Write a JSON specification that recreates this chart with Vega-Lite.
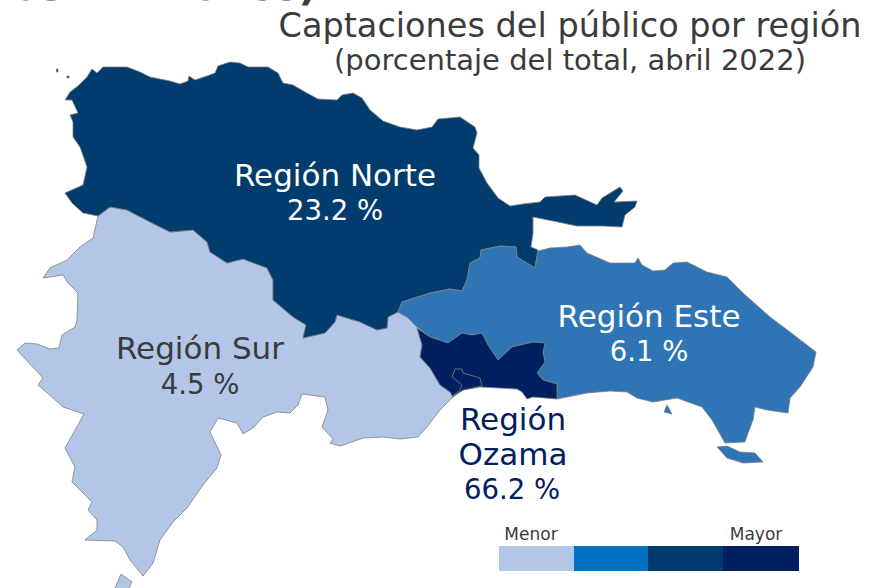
{"$schema":"https://vega.github.io/schema/vega-lite/v6.json","width":869,"height":588,"padding":0,"autosize":"none","view":{"stroke":null},"background":"white","projection":{"type":"identity","scale":1,"translate":[0,0]},"datasets":{"regions":[
{"type":"Feature","region":"Sur","geometry":{"type":"MultiPolygon","coordinates":[[[[98,216],[110,207],[127,210],[150,222],[170,232],[193,230],[207,242],[210,252],[227,263],[243,259],[267,268],[273,280],[273,300],[293,317],[306,325],[303,338],[325,333],[335,322],[337,315],[360,322],[377,330],[387,328],[388,317],[398,312],[407,317],[417,327],[422,345],[420,357],[430,368],[440,385],[450,392],[453,397],[440,410],[427,427],[418,437],[400,439],[383,437],[363,438],[340,446],[330,443],[333,439],[322,427],[328,410],[325,397],[302,394],[298,405],[290,413],[277,412],[263,417],[253,428],[243,434],[237,423],[218,418],[210,432],[221,455],[217,468],[203,485],[187,508],[173,522],[160,540],[153,563],[143,576],[130,560],[123,547],[115,541],[85,540],[97,530],[97,520],[88,510],[92,502],[72,482],[75,467],[65,448],[84,414],[63,407],[53,398],[38,385],[43,378],[17,350],[25,343],[37,344],[50,349],[59,348],[62,335],[75,327],[77,320],[78,293],[68,283],[63,275],[43,278],[50,268],[67,260],[80,247],[93,238],[98,216]]],[[[115,588],[121,574],[132,582],[128,590],[115,590],[115,588]]]]}},
{"type":"Feature","region":"Norte","geometry":{"type":"MultiPolygon","coordinates":[[[[65,100],[70,92],[78,86],[87,77],[92,69],[97,73],[103,67],[127,67],[140,72],[150,77],[170,81],[180,84],[188,81],[189,76],[195,80],[207,76],[215,73],[218,66],[230,62],[240,63],[248,67],[268,67],[278,73],[283,83],[293,85],[305,92],[318,99],[337,100],[342,95],[353,93],[362,98],[370,110],[383,121],[400,127],[417,130],[432,127],[438,119],[460,117],[475,127],[477,133],[473,148],[479,155],[479,168],[487,183],[498,198],[510,206],[523,204],[540,202],[545,197],[575,195],[597,205],[602,198],[620,187],[623,191],[614,202],[637,201],[635,207],[625,215],[622,227],[603,226],[577,226],[553,221],[533,217],[533,233],[531,247],[538,250],[535,268],[517,257],[516,247],[500,246],[481,250],[480,258],[470,263],[467,280],[462,291],[450,289],[430,293],[402,302],[398,312],[388,317],[387,328],[377,330],[360,322],[337,315],[335,322],[325,333],[303,338],[306,325],[293,317],[273,300],[273,280],[267,268],[243,259],[227,263],[210,252],[207,242],[193,230],[170,232],[150,222],[127,210],[110,207],[98,216],[83,213],[72,203],[65,193],[83,185],[87,167],[80,147],[73,137],[73,122],[70,115],[78,113],[72,100],[65,100]]],[[[56.5,69],[58,69],[58,72],[56.5,72],[56.5,69]]],[[[67,76],[69,76],[69,78],[67,78],[67,76]]]]}},
{"type":"Feature","region":"Este","geometry":{"type":"MultiPolygon","coordinates":[[[[398,312],[402,302],[430,293],[450,289],[462,291],[467,280],[470,263],[480,258],[481,250],[500,246],[516,247],[517,257],[535,268],[538,251],[550,248],[567,247],[580,245],[587,253],[610,263],[635,263],[638,258],[642,265],[653,271],[665,270],[673,263],[687,262],[707,272],[727,277],[743,293],[770,317],[790,332],[803,342],[816,352],[813,367],[800,387],[790,398],[788,413],[767,410],[755,407],[753,420],[748,433],[745,442],[725,443],[712,420],[702,407],[677,398],[653,402],[637,398],[627,392],[610,391],[587,393],[557,399],[557,384],[543,380],[537,373],[545,362],[543,352],[545,343],[533,342],[512,347],[498,360],[488,345],[482,333],[472,335],[462,333],[448,343],[430,337],[417,327],[407,317],[398,312]]],[[[717,447],[727,446],[740,452],[755,453],[763,462],[743,463],[727,458],[717,447]]],[[[664,412],[667,405],[672,414],[664,412]]]]}},
{"type":"Feature","region":"Ozama","geometry":{"type":"Polygon","coordinates":[[[417,328],[430,337],[448,343],[462,333],[472,335],[482,333],[488,345],[498,360],[512,347],[533,342],[545,343],[543,352],[545,362],[537,373],[543,380],[557,384],[557,399],[533,397],[527,399],[522,392],[517,389],[480,387],[463,390],[453,397],[450,392],[440,385],[430,368],[420,357],[422,345],[417,328]]]}},
{"type":"Feature","region":"Ozama","geometry":{"type":"Polygon","coordinates":[[[452,377],[455,369],[462,369],[463,373],[480,378],[482,386],[463,390],[453,396],[460,390],[462,385],[452,377]]]}}
],"scale":[
{"type":"Feature","region":"Sur","geometry":{"type":"Polygon","coordinates":[[[499,546],[574,546],[574,571],[499,571],[499,546]]]}},
{"type":"Feature","region":"Medio","geometry":{"type":"Polygon","coordinates":[[[574,546],[648,546],[648,571],[574,571],[574,546]]]}},
{"type":"Feature","region":"Norte","geometry":{"type":"Polygon","coordinates":[[[648,546],[723,546],[723,571],[648,571],[648,546]]]}},
{"type":"Feature","region":"Ozama","geometry":{"type":"Polygon","coordinates":[[[723,546],[799,546],[799,571],[723,571],[723,546]]]}}
],"labels":[
{"t":"Región Norte","lon":335,"lat":177,"tone":"w","k":"big"},
{"t":"23.2 %","lon":335,"lat":212,"tone":"w","k":"num"},
{"t":"Región Este","lon":649,"lat":318,"tone":"w","k":"big"},
{"t":"6.1 %","lon":649,"lat":353,"tone":"w","k":"num"},
{"t":"Región Sur","lon":200,"lat":350,"tone":"d","k":"big"},
{"t":"4.5 %","lon":200,"lat":386,"tone":"d","k":"num"},
{"t":"Región","lon":513,"lat":421,"tone":"n","k":"big"},
{"t":"Ozama","lon":513,"lat":456,"tone":"n","k":"big"},
{"t":"66.2 %","lon":512,"lat":491,"tone":"n","k":"num"},
{"t":"Captaciones del público por región","lon":570,"lat":27,"tone":"d","k":"title"},
{"t":"(porcentaje del total, abril 2022)","lon":570,"lat":61,"tone":"d","k":"sub"},
{"t":"Menor","lon":531,"lat":535,"tone":"d","k":"small"},
{"t":"Mayor","lon":756,"lat":535,"tone":"d","k":"small"},
{"t":"632 millones).","lon":332,"lat":0,"tone":"d","k":"top"}
]},
"layer":[
{"data":{"name":"regions"},"mark":{"type":"geoshape","stroke":"#7f7f7f","strokeWidth":0.8},"encoding":{"color":{"field":"region","type":"nominal","legend":null,"scale":{"domain":["Sur","Medio","Norte","Este","Ozama"],"range":["#b3c6e7","#0070c0","#003c6e","#2f75b5","#00205f"]}}}},
{"data":{"name":"scale"},"mark":{"type":"geoshape","strokeWidth":0},"encoding":{"color":{"field":"region","type":"nominal","legend":null,"scale":{"domain":["Sur","Medio","Norte","Este","Ozama"],"range":["#b3c6e7","#0070c0","#003c6e","#2f75b5","#00205f"]}}}},
{"data":{"name":"labels"},"transform":[{"filter":"datum.k==='big'"}],"mark":{"type":"text","font":"DejaVu Sans","fontSize":31,"align":"center","baseline":"middle"},"encoding":{"longitude":{"field":"lon","type":"quantitative"},"latitude":{"field":"lat","type":"quantitative"},"text":{"field":"t"},"color":{"field":"tone","type":"nominal","legend":null,"scale":{"domain":["w","d","n"],"range":["#ffffff","#3b3b3b","#00205f"]}}}},
{"data":{"name":"labels"},"transform":[{"filter":"datum.k==='num'"}],"mark":{"type":"text","font":"DejaVu Sans","fontSize":27.5,"align":"center","baseline":"middle"},"encoding":{"longitude":{"field":"lon","type":"quantitative"},"latitude":{"field":"lat","type":"quantitative"},"text":{"field":"t"},"color":{"field":"tone","type":"nominal","legend":null,"scale":{"domain":["w","d","n"],"range":["#ffffff","#3b3b3b","#00205f"]}}}},
{"data":{"name":"labels"},"transform":[{"filter":"datum.k==='title'"}],"mark":{"type":"text","font":"DejaVu Sans","fontSize":33.5,"align":"center","baseline":"middle","color":"#3b3b3b"},"encoding":{"longitude":{"field":"lon","type":"quantitative"},"latitude":{"field":"lat","type":"quantitative"},"text":{"field":"t"}}},
{"data":{"name":"labels"},"transform":[{"filter":"datum.k==='sub'"}],"mark":{"type":"text","font":"DejaVu Sans","fontSize":29,"align":"center","baseline":"middle","color":"#3b3b3b"},"encoding":{"longitude":{"field":"lon","type":"quantitative"},"latitude":{"field":"lat","type":"quantitative"},"text":{"field":"t"}}},
{"data":{"name":"labels"},"transform":[{"filter":"datum.k==='small'"}],"mark":{"type":"text","font":"DejaVu Sans","fontSize":17,"align":"center","baseline":"middle","color":"#3b3b3b"},"encoding":{"longitude":{"field":"lon","type":"quantitative"},"latitude":{"field":"lat","type":"quantitative"},"text":{"field":"t"}}},
{"data":{"name":"labels"},"transform":[{"filter":"datum.k==='top'"}],"mark":{"type":"text","font":"DejaVu Sans","fontSize":40,"fontWeight":"bold","align":"right","baseline":"alphabetic","color":"#3b3b3b"},"encoding":{"longitude":{"field":"lon","type":"quantitative"},"latitude":{"field":"lat","type":"quantitative"},"text":{"field":"t"}}}
],"resolve":{"scale":{"color":"independent"}}}
